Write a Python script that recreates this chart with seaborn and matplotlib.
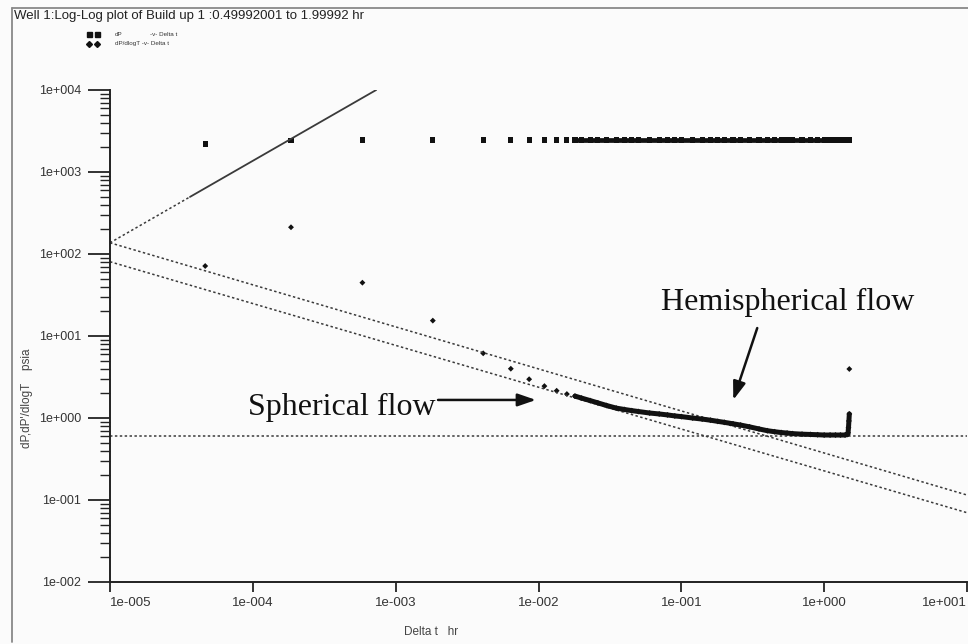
import matplotlib
matplotlib.use("Agg")
import matplotlib.pyplot as plt
import seaborn as sns
from matplotlib.lines import Line2D
from matplotlib.ticker import FixedLocator, FixedFormatter, LogLocator, NullFormatter, NullLocator

# ---------------- data ----------------
# early, well separated samples (Delta t in hr)
sparse_t = [4.64e-5, 1.85e-4, 5.85e-4, 1.82e-3, 4.1e-3, 6.4e-3, 8.6e-3, 1.1e-2, 1.34e-2, 1.58e-2]
sparse_dp = [2190, 2410, 2455, 2455, 2455, 2455, 2455, 2455, 2455, 2455]
sparse_dpd = [71.4, 212, 44.7, 15.4, 6.15, 3.99, 2.97, 2.45, 2.15, 1.96]

# late, densely sampled part (merges into a band)
dense_t = [0.018, 0.02, 0.023, 0.026, 0.03, 0.035, 0.04, 0.045, 0.05, 0.06,
           0.07, 0.08, 0.09, 0.1, 0.12, 0.14, 0.16, 0.18, 0.2, 0.23,
           0.26, 0.3, 0.35, 0.4, 0.45, 0.5, 0.55, 0.6, 0.7, 0.8,
           0.9, 1.0, 1.1, 1.2, 1.3, 1.4, 1.46, 1.47, 1.48, 1.49, 1.5]
dense_dp = [2455, 2455, 2455, 2455, 2455, 2455, 2455, 2455, 2455, 2455,
            2455, 2455, 2455, 2455, 2455, 2455, 2455, 2455, 2455, 2455,
            2455, 2455, 2455, 2455, 2455, 2455, 2455, 2455, 2455, 2455,
            2455, 2455, 2455, 2455, 2455, 2455, 2455, 2455, 2455, 2455, 2455]
dense_dpd = [1.85, 1.75, 1.63, 1.53, 1.42, 1.32, 1.27, 1.23, 1.20, 1.15,
             1.12, 1.09, 1.06, 1.04, 1.00, 0.97, 0.94, 0.91, 0.885, 0.85,
             0.82, 0.78, 0.735, 0.70, 0.68, 0.665, 0.655, 0.645, 0.635, 0.63,
             0.625, 0.62, 0.62, 0.62, 0.62, 0.62, 0.63, 0.66, 0.76, 0.92, 1.12]

# last derivative point (end effect)
end_t = [1.5]
end_dpd = [3.96]

# straight-line guides
unit_dot_t = [1e-5, 3.63e-5]
unit_dot_v = [137, 497]
unit_solid_t = [3.63e-5, 7.3e-4]
unit_solid_v = [497, 1.0e4]
sph_upper_t = [1e-5, 10]
sph_upper_v = [137, 0.115]
sph_lower_t = [1e-5, 10]
sph_lower_v = [80.5, 0.07]
hemi_t = [1e-5, 10]
hemi_v = [0.6, 0.6]

x_ticks = [1e-5, 1e-4, 1e-3, 1e-2, 1e-1, 1e0, 1e1]
x_tick_labels = ["1e-005", "1e-004", "1e-003", "1e-002", "1e-001", "1e+000", "1e+001"]
y_ticks = [1e-2, 1e-1, 1e0, 1e1, 1e2, 1e3, 1e4]
y_tick_labels = ["1e-002", "1e-001", "1e+000", "1e+001", "1e+002", "1e+003", "1e+004"]

title = "Well 1:Log-Log plot of Build up 1 :0.49992001 to 1.99992 hr"

# ---------------- figure ----------------
sns.set_style("ticks")
plt.rcParams['font.family'] = ['Liberation Sans', 'DejaVu Sans']

W, H = 968, 644
fig = plt.figure(figsize=(W / 100, H / 100), dpi=100)
bg = '#fbfbfb'
fig.patch.set_facecolor(bg)

def fx(px):
    return px / W

def fy(py):
    return 1 - py / H

ax = fig.add_axes([fx(110), fy(582), fx(967) - fx(110), fy(90) - fy(582)])
ax.set_facecolor(bg)
ax.set_xscale('log')
ax.set_yscale('log')

ink = '#111111'
guide = '#3a3a3a'
dot = (0, (1.6, 1.6))

# guide lines
sns.lineplot(x=unit_dot_t, y=unit_dot_v, ax=ax, color=guide, lw=1.1, linestyle=dot, sort=False, estimator=None)
sns.lineplot(x=unit_solid_t, y=unit_solid_v, ax=ax, color=guide, lw=1.3, sort=False, estimator=None)
sns.lineplot(x=sph_upper_t, y=sph_upper_v, ax=ax, color=guide, lw=1.1, linestyle=dot, sort=False, estimator=None)
sns.lineplot(x=sph_lower_t, y=sph_lower_v, ax=ax, color=guide, lw=1.1, linestyle=dot, sort=False, estimator=None)
sns.lineplot(x=hemi_t, y=hemi_v, ax=ax, color=guide, lw=1.1, linestyle=dot, sort=False, estimator=None)

# dense bands
sns.lineplot(x=dense_t, y=dense_dp, ax=ax, color=ink, lw=3.4, sort=False, estimator=None, solid_capstyle='butt')
sns.lineplot(x=dense_t, y=dense_dpd, ax=ax, color=ink, lw=3.6, sort=False, estimator=None, solid_joinstyle='round')

# markers
sns.scatterplot(x=sparse_t + dense_t, y=sparse_dp + dense_dp, ax=ax, marker='s', s=14, color=ink, edgecolor='none')
sns.scatterplot(x=sparse_t + dense_t + end_t, y=sparse_dpd + dense_dpd + end_dpd, ax=ax, marker='D', s=9, color=ink, edgecolor='none')

ax.set_xlim(1e-5, 10)
ax.set_ylim(1e-2, 1e4)

ax.xaxis.set_major_locator(FixedLocator(x_ticks))
ax.xaxis.set_major_formatter(FixedFormatter(x_tick_labels))
ax.xaxis.set_minor_locator(NullLocator())
ax.yaxis.set_major_locator(FixedLocator(y_ticks))
ax.yaxis.set_major_formatter(FixedFormatter(y_tick_labels))
ax.yaxis.set_minor_locator(LogLocator(base=10, subs=(2, 3, 4, 5, 6, 7, 8, 9), numticks=20))
ax.yaxis.set_minor_formatter(NullFormatter())

ax.tick_params(axis='y', which='both', left=True, right=False)
ax.tick_params(axis='x', which='both', bottom=True, top=False)
ax.tick_params(axis='y', which='major', length=16, width=1.3, direction='out', labelsize=9, pad=5,
               color='#222222', labelcolor='#333333')
ax.tick_params(axis='y', which='minor', length=7.2, width=1.0, direction='out', color='#222222')
ax.tick_params(axis='x', which='major', length=7.5, width=1.3, direction='out', labelsize=9.5, pad=3,
               color='#222222', labelcolor='#333333')
ax.set_xlabel("")
ax.set_ylabel("")
sns.despine(ax=ax)
for side in ('left', 'bottom'):
    ax.spines[side].set_linewidth(1.4)
    ax.spines[side].set_color('#222222')

xl = ax.get_xticklabels()
xl[0].set_ha('left')
xl[-1].set_ha('right')

# annotations
ax.annotate("", xy=(9.6e-3, 1.66), xytext=(1.98e-3, 1.66),
            arrowprops=dict(arrowstyle='-|>,head_length=1.1,head_width=0.38', lw=1.8, color=ink,
                            shrinkA=0, shrinkB=0))
ax.text(9.25e-5, 1.09, "Spherical flow", fontsize=23, family='Liberation Serif', color=ink,
        ha='left', va='baseline')
ax.annotate("", xy=(0.231, 1.66), xytext=(0.34, 12.5),
            arrowprops=dict(arrowstyle='-|>,head_length=1.1,head_width=0.38', lw=1.8, color=ink,
                            shrinkA=0, shrinkB=0))
ax.text(4.27, 20.7, "Hemispherical flow", fontsize=23, family='Liberation Serif', color=ink,
        ha='right', va='baseline')

# axis labels
fig.text(fx(27), fy(398), "dP,dP'/dlogT    psia", rotation=90, ha='center', va='center', fontsize=8.5, color='#444444')
fig.text(fx(431), fy(632), "Delta t   hr", ha='center', va='center', fontsize=8.5, color='#444444')

# title & legend
fig.text(fx(14), fy(16), title, ha='left', va='center', fontsize=9.5, color='#222222')
for px in (89, 97):
    fig.add_artist(Line2D([fx(px)], [fy(34)], transform=fig.transFigure, marker='s', markersize=3.6,
                          color=ink, linestyle='none'))
    fig.add_artist(Line2D([fx(px)], [fy(44)], transform=fig.transFigure, marker='D', markersize=3.0,
                          color=ink, linestyle='none'))
fig.text(fx(115), fy(34), "dP", ha='left', va='center', fontsize=4.5, color='#333333')
fig.text(fx(150), fy(34), "-v- Delta t", ha='left', va='center', fontsize=4.5, color='#333333')
fig.text(fx(115), fy(44), "dP/dlogT -v- Delta t", ha='left', va='center', fontsize=4.5, color='#333333')

# outer frame
fig.add_artist(Line2D([fx(12), fx(12)], [fy(8), fy(642)], transform=fig.transFigure, color='#888888', lw=1.3))
fig.add_artist(Line2D([fx(12), fx(968)], [fy(8), fy(8)], transform=fig.transFigure, color='#888888', lw=1.3))

fig.savefig("out.png", dpi=100, facecolor=bg)
